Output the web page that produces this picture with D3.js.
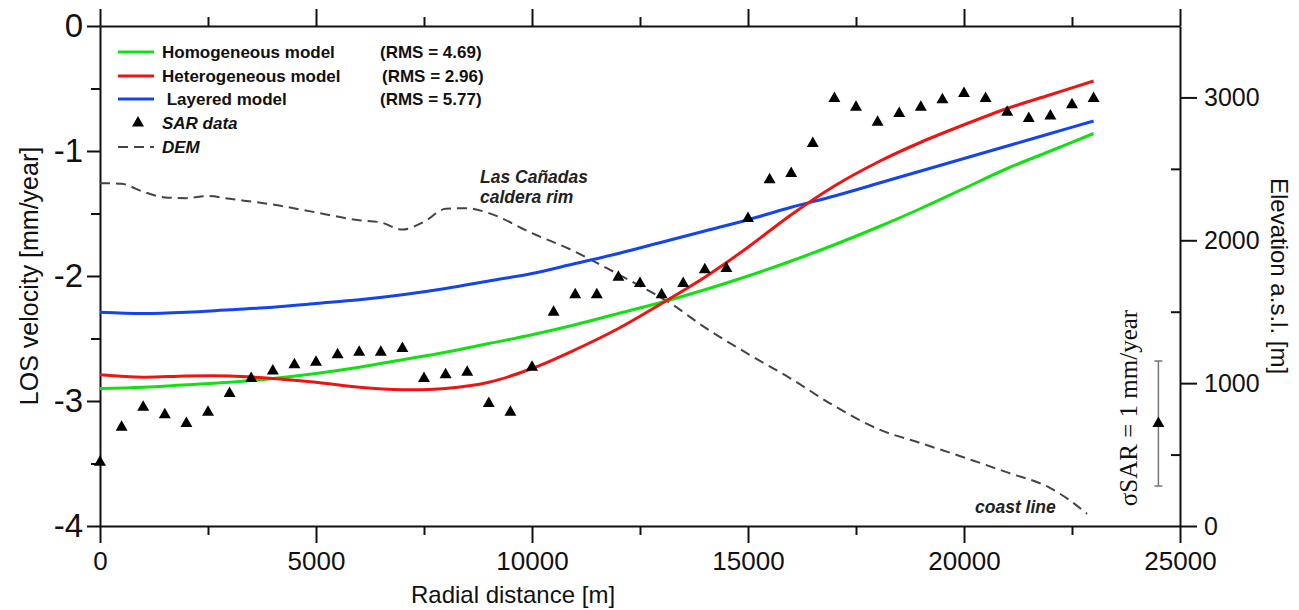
<!DOCTYPE html>
<html>
<head>
<meta charset="utf-8">
<script src="https://cdn.jsdelivr.net/npm/d3@7"></script>
<style>
  body { margin: 0; background: #fff; }
  svg text { font-family: "Liberation Sans", Arial, sans-serif; }
</style>
</head>
<body>
<div id="chart"></div>
<script>
// radial distance of model samples [m]
var modelDist = [0, 1000, 2000, 3000, 4000, 5000, 6000, 7000, 8000, 9000, 10000, 11000,
  12000, 13000, 14000, 15000, 16000, 17000, 18000, 19000, 20000, 21000, 22000, 23000];
var homogeneous = [-2.90, -2.89, -2.87, -2.85, -2.82, -2.78, -2.73, -2.67, -2.61, -2.54, -2.47, -2.39,
  -2.30, -2.21, -2.11, -2.00, -1.88, -1.75, -1.61, -1.46, -1.30, -1.14, -1.00, -0.86];
var heterogeneous = [-2.79, -2.81, -2.80, -2.80, -2.82, -2.85, -2.89, -2.91, -2.90, -2.85, -2.74, -2.59,
  -2.42, -2.22, -2.01, -1.77, -1.51, -1.28, -1.09, -0.93, -0.79, -0.66, -0.55, -0.44];
var layered = [-2.29, -2.30, -2.29, -2.27, -2.25, -2.22, -2.19, -2.15, -2.10, -2.04, -1.98, -1.90,
  -1.82, -1.73, -1.64, -1.55, -1.45, -1.36, -1.26, -1.16, -1.06, -0.96, -0.86, -0.76];

// SAR data, every 500 m
var sarDist = [0, 500, 1000, 1500, 2000, 2500, 3000, 3500, 4000, 4500, 5000, 5500, 6000, 6500, 7000,
  7500, 8000, 8500, 9000, 9500, 10000, 10500, 11000, 11500, 12000, 12500, 13000, 13500, 14000, 14500,
  15000, 15500, 16000, 16500, 17000, 17500, 18000, 18500, 19000, 19500, 20000, 20500, 21000, 21500,
  22000, 22500, 23000];
var sarVel = [-3.49, -3.21, -3.05, -3.11, -3.18, -3.09, -2.94, -2.82, -2.76, -2.71, -2.69, -2.63, -2.61,
  -2.61, -2.58, -2.82, -2.79, -2.77, -3.02, -3.09, -2.73, -2.29, -2.15, -2.15, -2.01, -2.06, -2.15,
  -2.06, -1.95, -1.94, -1.54, -1.23, -1.18, -0.94, -0.58, -0.65, -0.77, -0.70, -0.65, -0.59, -0.54,
  -0.58, -0.69, -0.74, -0.72, -0.63, -0.58];

// DEM profile (elevation a.s.l. [m])
var demDist = [0, 500, 1000, 1500, 2000, 2500, 3000, 4000, 5000, 6000, 6500, 7000, 7500, 8000, 8500,
  9000, 10000, 11000, 11700, 12500, 13200, 14000, 15000, 16000, 17000, 18000, 19000, 20000, 21000,
  22000, 22400, 22850];
var demElev = [2400, 2395, 2340, 2300, 2295, 2310, 2290, 2250, 2195, 2140, 2125, 2075, 2130, 2220, 2225,
  2190, 2050, 1920, 1810, 1680, 1560, 1390, 1205, 1030, 840, 680, 580, 480, 375, 265, 190, 85];

// SAR error bar sample
var sigmaDist = 24500;
var sigmaCenter = -3.18;
var sigmaValue = 1;

// legend
var legendNames = ["Homogeneous model", "Heterogeneous model", " Layered model", "SAR data", "DEM"];
var legendRms = ["(RMS = 4.69)", "(RMS = 2.96)", "(RMS = 5.77)"];
var modelColors = ["#11e011", "#ee1414", "#1444ee"];

// ticks
var xMajor = [0, 5000, 10000, 15000, 20000, 25000];
var xMinor = [2500, 7500, 12500, 17500, 22500];
var yMajor = [0, -1, -2, -3, -4];
var yMinor = [-0.5, -1.5, -2.5, -3.5];
var eMajor = [0, 1000, 2000, 3000];
var eMinor = [500, 1500, 2500];

var W = 1299, H = 610;
var plotLeft = 100, plotTop = 26, plotRight = 1180, plotBottom = 526;

var svg = d3.select("#chart").append("svg")
  .attr("width", W).attr("height", H);

var x = d3.scaleLinear().domain([0, 25000]).range([plotLeft, plotRight]);
var y = d3.scaleLinear().domain([-4, 0]).range([plotBottom, plotTop]);
var yE = d3.scaleLinear().domain([0, 3500]).range([plotBottom, plotTop]);

function styleAxis(g, fontSize) {
  g.select(".domain").attr("stroke", "#111").attr("stroke-width", 2);
  g.selectAll(".tick line").attr("stroke", "#111").attr("stroke-width", 2);
  g.selectAll(".tick text").attr("fill", "#111").style("font-size", fontSize + "px")
    .style("font-family", "'Liberation Sans', Arial, sans-serif");
}

// bottom axis
var bx = svg.append("g").attr("transform", "translate(0," + plotBottom + ")")
  .call(d3.axisBottom(x).tickValues(xMajor).tickSize(17).tickSizeOuter(0).tickPadding(9)
    .tickFormat(function(d) { return String(d); }));
styleAxis(bx, 26);
var bxm = svg.append("g").attr("transform", "translate(0," + plotBottom + ")")
  .call(d3.axisBottom(x).tickValues(xMinor).tickSize(9).tickFormat(""));
styleAxis(bxm, 10);
bxm.select(".domain").remove();

// top axis
var tx = svg.append("g").attr("transform", "translate(0," + plotTop + ")")
  .call(d3.axisTop(x).tickValues(xMajor).tickSize(17).tickSizeOuter(0).tickFormat(""));
styleAxis(tx, 10);
var txm = svg.append("g").attr("transform", "translate(0," + plotTop + ")")
  .call(d3.axisTop(x).tickValues(xMinor).tickSize(9).tickFormat(""));
styleAxis(txm, 10);
txm.select(".domain").remove();

// left axis
var ly = svg.append("g").attr("transform", "translate(" + plotLeft + ",0)")
  .call(d3.axisLeft(y).tickValues(yMajor).tickSize(13).tickSizeOuter(0).tickPadding(4)
    .tickFormat(function(d) { return String(d); }));
styleAxis(ly, 33);
var lym = svg.append("g").attr("transform", "translate(" + plotLeft + ",0)")
  .call(d3.axisLeft(y).tickValues(yMinor).tickSize(9).tickFormat(""));
styleAxis(lym, 10);
lym.select(".domain").remove();

// right axis (elevation)
var ry = svg.append("g").attr("transform", "translate(" + plotRight + ",0)")
  .call(d3.axisRight(yE).tickValues(eMajor).tickSize(17).tickSizeOuter(0).tickPadding(7)
    .tickFormat(function(d) { return String(d); }));
styleAxis(ry, 25);
var rym = svg.append("g").attr("transform", "translate(" + plotRight + ",0)")
  .call(d3.axisLeft(yE).tickValues(eMinor).tickSize(9).tickFormat(""));
styleAxis(rym, 10);
rym.select(".domain").remove();

// axis titles
svg.append("text")
  .attr("transform", "translate(" + 38 + "," + ((plotTop + plotBottom) / 2) + ") rotate(-90)")
  .attr("text-anchor", "middle")
  .style("font-size", "25px").attr("fill", "#111")
  .text("LOS velocity [mm/year]");

svg.append("text")
  .attr("transform", "translate(" + 1271 + "," + ((plotTop + plotBottom) / 2) + ") rotate(90)")
  .attr("text-anchor", "middle")
  .style("font-size", "24px").attr("fill", "#111")
  .text("Elevation a.s.l. [m]");

svg.append("text")
  .attr("x", 513).attr("y", 603)
  .attr("text-anchor", "middle")
  .style("font-size", "24px").attr("fill", "#111")
  .text("Radial distance [m]");

// DEM dashed profile
var demLine = d3.line()
  .x(function(d) { return x(d[0]); })
  .y(function(d) { return yE(d[1]); })
  .curve(d3.curveMonotoneX);
svg.append("path")
  .attr("d", demLine(d3.zip(demDist, demElev)))
  .attr("fill", "none")
  .attr("stroke", "#444")
  .attr("stroke-width", 2)
  .attr("stroke-dasharray", "10,6");

// model curves
var modelLine = d3.line()
  .x(function(d) { return x(d[0]); })
  .y(function(d) { return y(d[1]); })
  .curve(d3.curveCatmullRom);
var models = [homogeneous, heterogeneous, layered];
[0, 2, 1].forEach(function(i) {
  svg.append("path")
    .attr("d", modelLine(d3.zip(modelDist, models[i])))
    .attr("fill", "none")
    .attr("stroke", modelColors[i])
    .attr("stroke-width", 3);
});

// SAR triangles
var tri = d3.symbol().type(d3.symbolTriangle).size(62);
svg.append("g").selectAll("path")
  .data(d3.zip(sarDist, sarVel))
  .join("path")
  .attr("d", tri)
  .attr("transform", function(d) { return "translate(" + x(d[0]) + "," + y(d[1]) + ")"; })
  .attr("fill", "#000");

// SAR error bar
var sx = x(sigmaDist);
var sTop = y(sigmaCenter + sigmaValue / 2), sBot = y(sigmaCenter - sigmaValue / 2);
svg.append("line").attr("x1", sx).attr("x2", sx).attr("y1", sTop).attr("y2", sBot)
  .attr("stroke", "#777").attr("stroke-width", 1.5);
[sTop, sBot].forEach(function(v) {
  svg.append("line").attr("x1", sx - 4).attr("x2", sx + 4).attr("y1", v).attr("y2", v)
    .attr("stroke", "#777").attr("stroke-width", 1.5);
});
svg.append("path").attr("d", tri)
  .attr("transform", "translate(" + sx + "," + y(sigmaCenter) + ")")
  .attr("fill", "#000");
svg.append("text")
  .attr("transform", "translate(1137,408) rotate(-90)")
  .attr("text-anchor", "middle")
  .style("font-family", "'Liberation Serif', 'Times New Roman', serif")
  .style("font-size", "25px").attr("fill", "#111")
  .text("\u03C3SAR = 1 mm/year");

// annotations
var ann = svg.append("g").style("font-weight", "bold").style("font-style", "italic")
  .style("font-size", "17.5px").attr("fill", "#222");
ann.append("text").attr("x", 480).attr("y", 183).text("Las Cañadas");
ann.append("text").attr("x", 480).attr("y", 203).text("caldera rim");
ann.append("text").attr("x", 975).attr("y", 513).text("coast line");

// legend
var legend = svg.append("g");
var rowY = [52, 76, 99, 123, 147];
legendNames.forEach(function(name, i) {
  var ry0 = rowY[i];
  if (i < 3) {
    legend.append("line").attr("x1", 118).attr("x2", 154).attr("y1", ry0).attr("y2", ry0)
      .attr("stroke", modelColors[i]).attr("stroke-width", 3);
  } else if (i === 3) {
    legend.append("path").attr("d", tri).attr("transform", "translate(138," + ry0 + ")")
      .attr("fill", "#000");
  } else {
    legend.append("line").attr("x1", 118).attr("x2", 154).attr("y1", ry0).attr("y2", ry0)
      .attr("stroke", "#444").attr("stroke-width", 2).attr("stroke-dasharray", "10,6");
  }
  legend.append("text").attr("x", 162).attr("y", ry0).attr("dy", "0.35em")
    .style("font-size", "17px").style("font-weight", "bold")
    .style("font-style", i >= 3 ? "italic" : "normal")
    .attr("fill", "#111")
    .attr("xml:space", "preserve")
    .text(name);
  if (i < 3) {
    legend.append("text").attr("x", i === 1 ? 382 : 380).attr("y", ry0).attr("dy", "0.35em")
      .style("font-size", "17px").style("font-weight", "bold")
      .attr("fill", "#111")
      .text(legendRms[i]);
  }
});
</script>
</body>
</html>
